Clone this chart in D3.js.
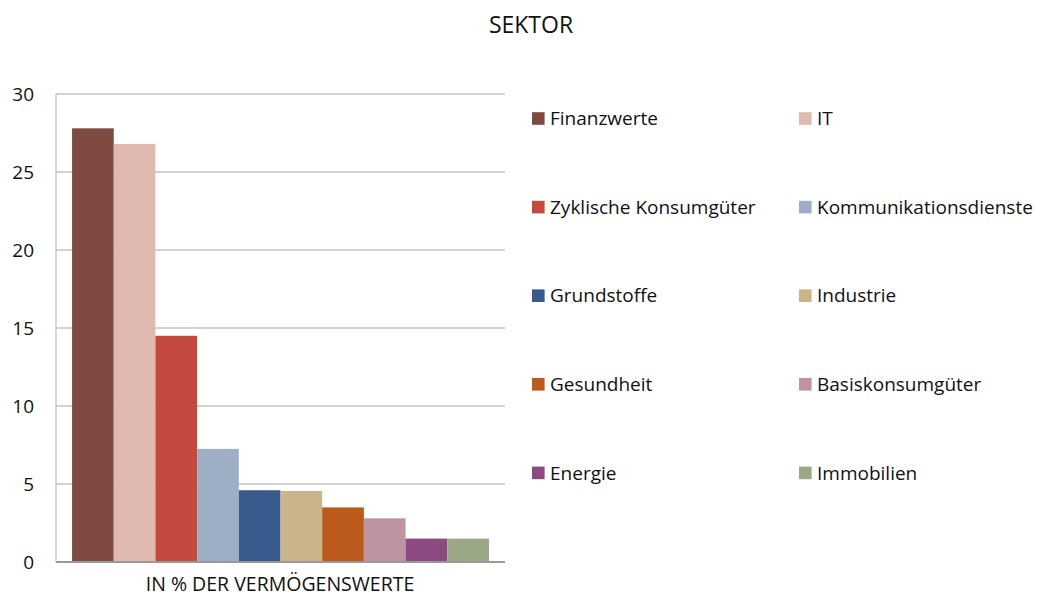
<!DOCTYPE html>
<html>
<head>
<meta charset="utf-8">
<script src="https://cdn.jsdelivr.net/npm/d3@7/dist/d3.min.js"></script>
<style>
  body { margin: 0; background: #fff; }
  text { font-family: "Open Sans", "Noto Sans", sans-serif; fill: #111; }
</style>
</head>
<body>
<svg id="chart" width="1056" height="596"></svg>
<script>
// Chart data
var sectors = ['Finanzwerte', 'IT', 'Zyklische Konsumgüter', 'Kommunikationsdienste',
  'Grundstoffe', 'Industrie', 'Gesundheit', 'Basiskonsumgüter', 'Energie', 'Immobilien'];
var shares = [27.8, 26.8, 14.5, 7.25, 4.6, 4.55, 3.5, 2.8, 1.5, 1.5];
var colors = ['#7f4a41', '#e0bab0', '#c4493f', '#9eafc5', '#385a8c',
  '#cbb48a', '#bc5a1e', '#be94a2', '#8c4b80', '#9aa886'];
var yTicks = [0, 5, 10, 15, 20, 25, 30];
var title = 'SEKTOR';
var xLabel = 'IN % DER VERMÖGENSWERTE';

var svg = d3.select('#chart');

// Plot area (names kept away from window.top)
var plot = { left: 56, right: 505, top: 94, bottom: 562 };

var x = d3.scaleBand()
  .domain(sectors)
  .range([plot.left, plot.right])
  .paddingInner(0)
  .paddingOuter(0.385);

var y = d3.scaleLinear()
  .domain([0, 30])
  .range([plot.bottom, plot.top]);

// Gridlines
svg.append('g')
  .selectAll('line')
  .data(yTicks.filter(function(d) { return d > 0; }))
  .enter().append('line')
  .attr('x1', plot.left)
  .attr('x2', plot.right)
  .attr('y1', function(d) { return y(d); })
  .attr('y2', function(d) { return y(d); })
  .attr('stroke', '#a6a6a6')
  .attr('stroke-width', 1.2);

// Bars
svg.append('g')
  .selectAll('rect')
  .data(sectors)
  .enter().append('rect')
  .attr('x', function(d) { return x(d); })
  .attr('width', x.bandwidth())
  .attr('y', function(d, i) { return y(shares[i]); })
  .attr('height', function(d, i) { return y(0) - y(shares[i]); })
  .attr('fill', function(d, i) { return colors[i]; });

// Left axis line
svg.append('line')
  .attr('x1', plot.left).attr('x2', plot.left)
  .attr('y1', plot.top).attr('y2', plot.bottom)
  .attr('stroke', '#bcbcbc')
  .attr('stroke-width', 1.2);

// Bottom axis line
svg.append('line')
  .attr('x1', plot.left).attr('x2', plot.right)
  .attr('y1', plot.bottom).attr('y2', plot.bottom)
  .attr('stroke', '#999')
  .attr('stroke-width', 2);

// Y tick labels
svg.append('g')
  .selectAll('text')
  .data(yTicks)
  .enter().append('text')
  .attr('x', 34)
  .attr('y', function(d) { return y(d); })
  .attr('dy', '0.35em')
  .attr('text-anchor', 'end')
  .style('font-size', '19px')
  .text(function(d) { return d; });

// Title
svg.append('text')
  .attr('x', 531)
  .attr('y', 33)
  .attr('text-anchor', 'middle')
  .style('font-size', '23px')
  .text(title);

// X axis label
svg.append('text')
  .attr('x', 280)
  .attr('y', 591)
  .attr('text-anchor', 'middle')
  .style('font-size', '19.5px')
  .text(xLabel);

// Legend, two columns
var legend = svg.append('g')
  .selectAll('g')
  .data(sectors)
  .enter().append('g')
  .attr('transform', function(d, i) {
    var col = i % 2, row = Math.floor(i / 2);
    return 'translate(' + (532 + col * 267) + ',' + (118.5 + row * 88.6) + ')';
  });

legend.append('rect')
  .attr('x', 0)
  .attr('y', -6.3)
  .attr('width', 12.6)
  .attr('height', 12.6)
  .attr('fill', function(d, i) { return colors[i]; });

legend.append('text')
  .attr('x', 18)
  .attr('y', 0)
  .attr('dy', '0.35em')
  .style('font-size', '19px')
  .text(function(d) { return d; });
</script>
</body>
</html>
